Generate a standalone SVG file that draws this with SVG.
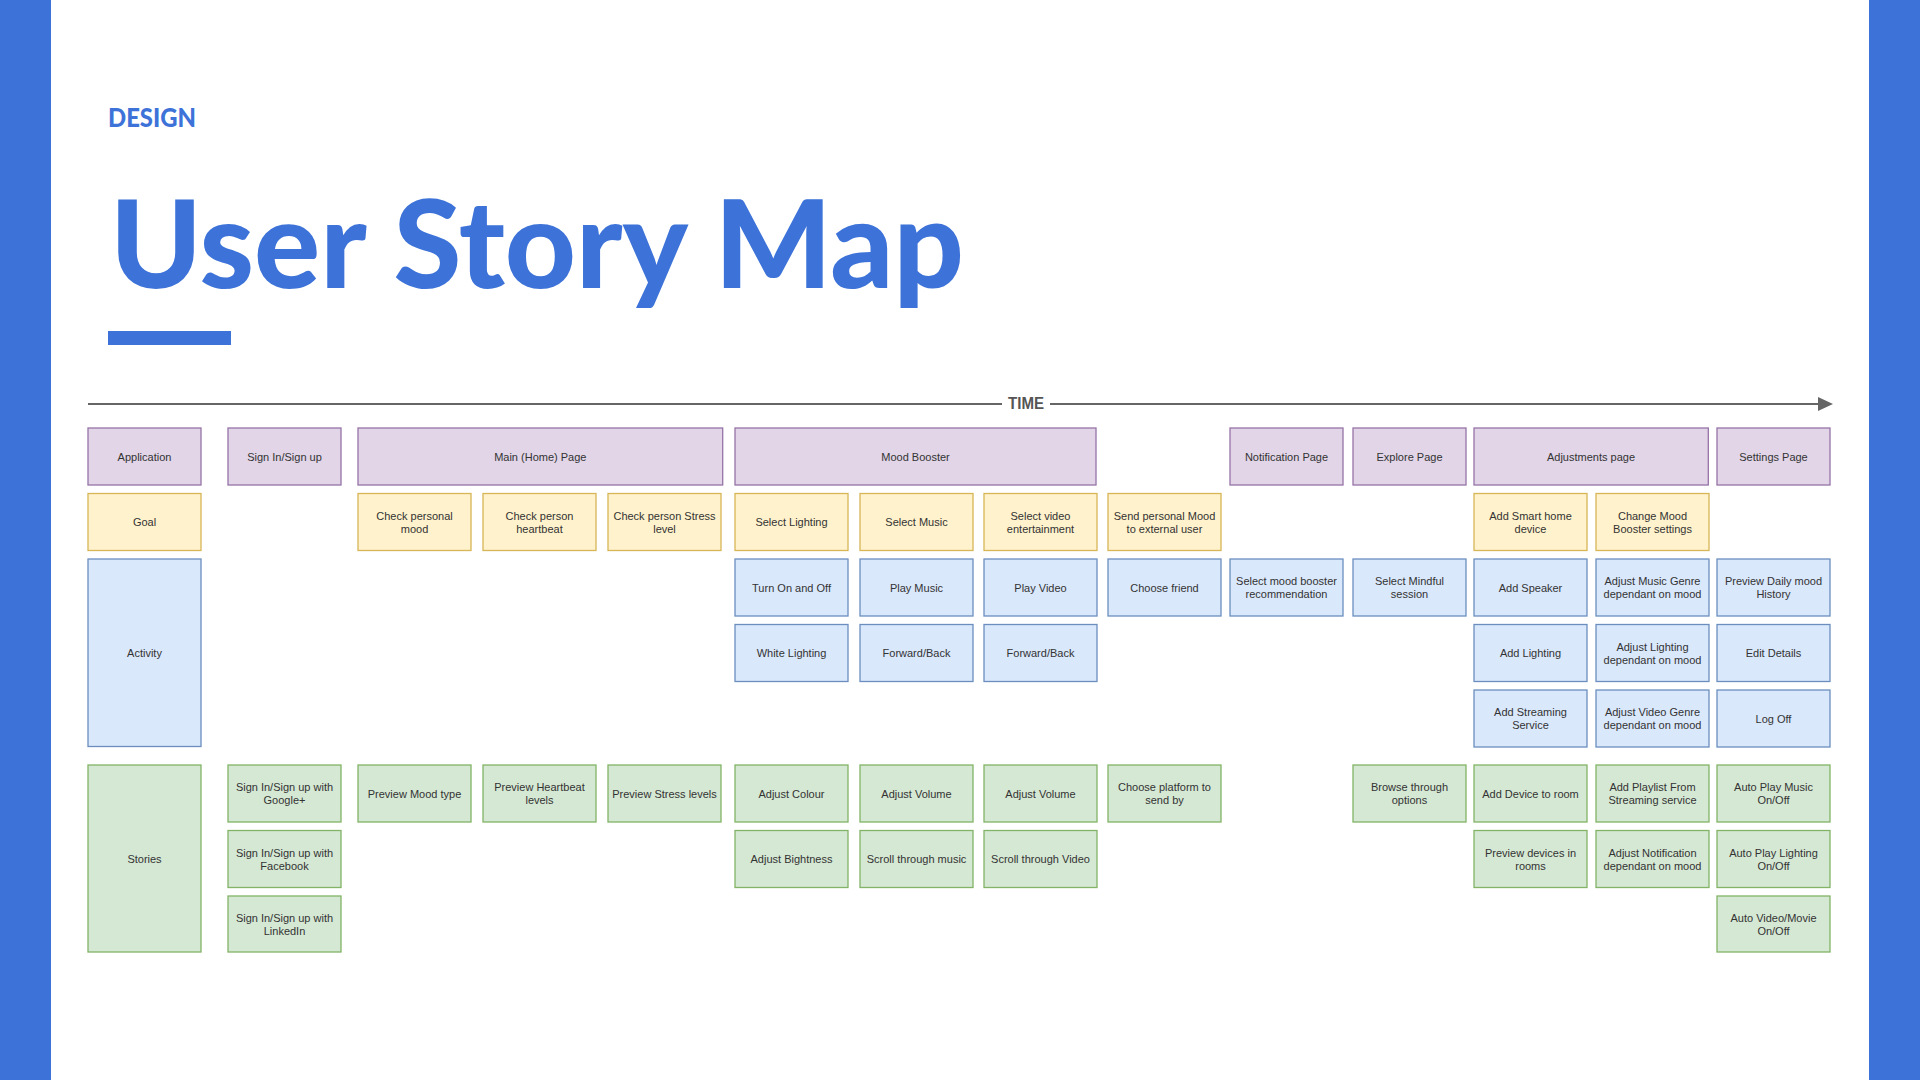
<svg xmlns="http://www.w3.org/2000/svg" width="1920" height="1080" viewBox="0 0 1920 1080">
<style>
.bar{fill:#3d73d9}
.p{fill:#e1d5e7;stroke:#9673a6;stroke-width:1.3}
.y{fill:#fff2cc;stroke:#d6b656;stroke-width:1.3}
.b{fill:#dae8fc;stroke:#6c8ebf;stroke-width:1.3}
.g{fill:#d5e8d4;stroke:#82b366;stroke-width:1.3}
text.t{font-family:"Liberation Sans",Arial,sans-serif;font-size:11px;fill:#333333;text-anchor:middle}
.tl{stroke:#666666;stroke-width:2.2;fill:none}
</style>
<defs>
<marker id="arr" markerWidth="10" markerHeight="10" refX="8" refY="5" orient="auto" markerUnits="userSpaceOnUse">
<path d="M0,0 L15,5 L0,10 Z" fill="#666666"/>
</marker>
</defs>
<rect width="1920" height="1080" fill="#ffffff"/>
<rect class="bar" x="0" y="0" width="51" height="1080"/>
<rect class="bar" x="1869" y="0" width="51" height="1080"/>
<text x="108" y="127" font-family="Lato,'Noto Sans',sans-serif" font-weight="900" font-size="26" fill="#3d73d9" textLength="88" lengthAdjust="spacingAndGlyphs">DESIGN</text>
<text x="110" y="288" font-family="Lato,'Noto Sans',sans-serif" font-weight="900" font-size="122" fill="#3d73d9" textLength="854" lengthAdjust="spacingAndGlyphs">User Story Map</text>
<rect class="bar" x="108" y="331" width="123" height="14"/>

<g id="connectors">
<line class="tl" x1="88" y1="404" x2="1002" y2="404"/>
<text x="1026" y="409" font-family="'Liberation Sans',Arial,sans-serif" font-weight="bold" font-size="16" fill="#555555" text-anchor="middle" textLength="36" lengthAdjust="spacingAndGlyphs">TIME</text>
<path class="tl" d="M1050,404 L1822,404"/>
<path d="M1818,397 L1833,404 L1818,411 Z" fill="#666666"/>
</g>

<!-- Row 0 -->
<g id="application"><rect class="p" x="88" y="428" width="113" height="57"/><text class="t" x="144.5" y="460.5">Application</text></g>
<g id="signin"><rect class="p" x="228" y="428" width="113" height="57"/><text class="t" x="284.5" y="460.5">Sign In/Sign up</text></g>
<g id="mainpage"><rect class="p" x="358" y="428" width="364.7" height="57"/><text class="t" x="540.3" y="460.5">Main (Home) Page</text></g>
<g id="moodbooster"><rect class="p" x="735" y="428" width="361" height="57"/><text class="t" x="915.5" y="460.5">Mood Booster</text></g>
<g id="notificationpage"><rect class="p" x="1230" y="428" width="113" height="57"/><text class="t" x="1286.5" y="460.5">Notification Page</text></g>
<g id="explorepage"><rect class="p" x="1353" y="428" width="113" height="57"/><text class="t" x="1409.5" y="460.5">Explore Page</text></g>
<g id="adjustmentspage"><rect class="p" x="1474" y="428" width="234.3" height="57"/><text class="t" x="1591" y="460.5">Adjustments page</text></g>
<g id="settingspage"><rect class="p" x="1717" y="428" width="113" height="57"/><text class="t" x="1773.5" y="460.5">Settings Page</text></g>

<!-- Row 1 goals -->
<g id="goal"><rect class="y" x="88" y="493.5" width="113" height="57"/><text class="t" x="144.5" y="526">Goal</text></g>
<g id="checkmood"><rect class="y" x="358" y="493.5" width="113" height="57"/><text class="t" x="414.5" y="519.5">Check personal<tspan x="414.5" dy="13">mood</tspan></text></g>
<g id="checkheartbeat"><rect class="y" x="483" y="493.5" width="113" height="57"/><text class="t" x="539.5" y="519.5">Check person<tspan x="539.5" dy="13">heartbeat</tspan></text></g>
<g id="checkstress"><rect class="y" x="608" y="493.5" width="113" height="57"/><text class="t" x="664.5" y="519.5">Check person Stress<tspan x="664.5" dy="13">level</tspan></text></g>
<g id="selectlighting"><rect class="y" x="735" y="493.5" width="113" height="57"/><text class="t" x="791.5" y="526">Select Lighting</text></g>
<g id="selectmusic"><rect class="y" x="860" y="493.5" width="113" height="57"/><text class="t" x="916.5" y="526">Select Music</text></g>
<g id="selectvideo"><rect class="y" x="984" y="493.5" width="113" height="57"/><text class="t" x="1040.5" y="519.5">Select video<tspan x="1040.5" dy="13">entertainment</tspan></text></g>
<g id="sendmood"><rect class="y" x="1108" y="493.5" width="113" height="57"/><text class="t" x="1164.5" y="519.5">Send personal Mood<tspan x="1164.5" dy="13">to external user</tspan></text></g>
<g id="addsmarthome"><rect class="y" x="1474" y="493.5" width="113" height="57"/><text class="t" x="1530.5" y="519.5">Add Smart home<tspan x="1530.5" dy="13">device</tspan></text></g>
<g id="changemood"><rect class="y" x="1596" y="493.5" width="113" height="57"/><text class="t" x="1652.5" y="519.5">Change Mood<tspan x="1652.5" dy="13">Booster settings</tspan></text></g>

<!-- Activities -->
<g id="activity"><rect class="b" x="88" y="559" width="113" height="187.5"/><text class="t" x="144.5" y="656.5">Activity</text></g>
<g id="turnonoff"><rect class="b" x="735" y="559" width="113" height="57"/><text class="t" x="791.5" y="591.5">Turn On and Off</text></g>
<g id="playmusic"><rect class="b" x="860" y="559" width="113" height="57"/><text class="t" x="916.5" y="591.5">Play Music</text></g>
<g id="playvideo"><rect class="b" x="984" y="559" width="113" height="57"/><text class="t" x="1040.5" y="591.5">Play Video</text></g>
<g id="choosefriend"><rect class="b" x="1108" y="559" width="113" height="57"/><text class="t" x="1164.5" y="591.5">Choose friend</text></g>
<g id="selectrecommendation"><rect class="b" x="1230" y="559" width="113" height="57"/><text class="t" x="1286.5" y="585">Select mood booster<tspan x="1286.5" dy="13">recommendation</tspan></text></g>
<g id="selectmindful"><rect class="b" x="1353" y="559" width="113" height="57"/><text class="t" x="1409.5" y="585">Select Mindful<tspan x="1409.5" dy="13">session</tspan></text></g>
<g id="addspeaker"><rect class="b" x="1474" y="559" width="113" height="57"/><text class="t" x="1530.5" y="591.5">Add Speaker</text></g>
<g id="adjustmusicgenre"><rect class="b" x="1596" y="559" width="113" height="57"/><text class="t" x="1652.5" y="585">Adjust Music Genre<tspan x="1652.5" dy="13">dependant on mood</tspan></text></g>
<g id="previewhistory"><rect class="b" x="1717" y="559" width="113" height="57"/><text class="t" x="1773.5" y="585">Preview Daily mood<tspan x="1773.5" dy="13">History</tspan></text></g>

<g id="whitelighting"><rect class="b" x="735" y="624.5" width="113" height="57"/><text class="t" x="791.5" y="657">White Lighting</text></g>
<g id="forwardback1"><rect class="b" x="860" y="624.5" width="113" height="57"/><text class="t" x="916.5" y="657">Forward/Back</text></g>
<g id="forwardback2"><rect class="b" x="984" y="624.5" width="113" height="57"/><text class="t" x="1040.5" y="657">Forward/Back</text></g>
<g id="addlighting"><rect class="b" x="1474" y="624.5" width="113" height="57"/><text class="t" x="1530.5" y="657">Add Lighting</text></g>
<g id="adjustlightingmood"><rect class="b" x="1596" y="624.5" width="113" height="57"/><text class="t" x="1652.5" y="650.5">Adjust Lighting<tspan x="1652.5" dy="13">dependant on mood</tspan></text></g>
<g id="editdetails"><rect class="b" x="1717" y="624.5" width="113" height="57"/><text class="t" x="1773.5" y="657">Edit Details</text></g>

<g id="addstreaming"><rect class="b" x="1474" y="690" width="113" height="57"/><text class="t" x="1530.5" y="716">Add Streaming<tspan x="1530.5" dy="13">Service</tspan></text></g>
<g id="adjustvideogenre"><rect class="b" x="1596" y="690" width="113" height="57"/><text class="t" x="1652.5" y="716">Adjust Video Genre<tspan x="1652.5" dy="13">dependant on mood</tspan></text></g>
<g id="logoff"><rect class="b" x="1717" y="690" width="113" height="57"/><text class="t" x="1773.5" y="722.5">Log Off</text></g>

<!-- Stories -->
<g id="stories"><rect class="g" x="88" y="765" width="113" height="187"/><text class="t" x="144.5" y="862.5">Stories</text></g>
<g id="signgoogle"><rect class="g" x="228" y="765" width="113" height="57"/><text class="t" x="284.5" y="791">Sign In/Sign up with<tspan x="284.5" dy="13">Google+</tspan></text></g>
<g id="previewmood"><rect class="g" x="358" y="765" width="113" height="57"/><text class="t" x="414.5" y="797.5">Preview Mood type</text></g>
<g id="previewheartbeat"><rect class="g" x="483" y="765" width="113" height="57"/><text class="t" x="539.5" y="791">Preview Heartbeat<tspan x="539.5" dy="13">levels</tspan></text></g>
<g id="previewstress"><rect class="g" x="608" y="765" width="113" height="57"/><text class="t" x="664.5" y="797.5">Preview Stress levels</text></g>
<g id="adjustcolour"><rect class="g" x="735" y="765" width="113" height="57"/><text class="t" x="791.5" y="797.5">Adjust Colour</text></g>
<g id="adjustvolume1"><rect class="g" x="860" y="765" width="113" height="57"/><text class="t" x="916.5" y="797.5">Adjust Volume</text></g>
<g id="adjustvolume2"><rect class="g" x="984" y="765" width="113" height="57"/><text class="t" x="1040.5" y="797.5">Adjust Volume</text></g>
<g id="chooseplatform"><rect class="g" x="1108" y="765" width="113" height="57"/><text class="t" x="1164.5" y="791">Choose platform to<tspan x="1164.5" dy="13">send by</tspan></text></g>
<g id="browseoptions"><rect class="g" x="1353" y="765" width="113" height="57"/><text class="t" x="1409.5" y="791">Browse through<tspan x="1409.5" dy="13">options</tspan></text></g>
<g id="adddevice"><rect class="g" x="1474" y="765" width="113" height="57"/><text class="t" x="1530.5" y="797.5">Add Device to room</text></g>
<g id="addplaylist"><rect class="g" x="1596" y="765" width="113" height="57"/><text class="t" x="1652.5" y="791">Add Playlist From<tspan x="1652.5" dy="13">Streaming service</tspan></text></g>
<g id="autoplaymusic"><rect class="g" x="1717" y="765" width="113" height="57"/><text class="t" x="1773.5" y="791">Auto Play Music<tspan x="1773.5" dy="13">On/Off</tspan></text></g>

<g id="signfacebook"><rect class="g" x="228" y="830.5" width="113" height="57"/><text class="t" x="284.5" y="856.5">Sign In/Sign up with<tspan x="284.5" dy="13">Facebook</tspan></text></g>
<g id="adjustbrightness"><rect class="g" x="735" y="830.5" width="113" height="57"/><text class="t" x="791.5" y="863">Adjust Bightness</text></g>
<g id="scrollmusic"><rect class="g" x="860" y="830.5" width="113" height="57"/><text class="t" x="916.5" y="863">Scroll through music</text></g>
<g id="scrollvideo"><rect class="g" x="984" y="830.5" width="113" height="57"/><text class="t" x="1040.5" y="863">Scroll through Video</text></g>
<g id="previewdevices"><rect class="g" x="1474" y="830.5" width="113" height="57"/><text class="t" x="1530.5" y="856.5">Preview devices in<tspan x="1530.5" dy="13">rooms</tspan></text></g>
<g id="adjustnotification"><rect class="g" x="1596" y="830.5" width="113" height="57"/><text class="t" x="1652.5" y="856.5">Adjust Notification<tspan x="1652.5" dy="13">dependant on mood</tspan></text></g>
<g id="autoplaylighting"><rect class="g" x="1717" y="830.5" width="113" height="57"/><text class="t" x="1773.5" y="856.5">Auto Play Lighting<tspan x="1773.5" dy="13">On/Off</tspan></text></g>

<g id="signlinkedin"><rect class="g" x="228" y="896" width="113" height="56"/><text class="t" x="284.5" y="921.5">Sign In/Sign up with<tspan x="284.5" dy="13">LinkedIn</tspan></text></g>
<g id="autovideo"><rect class="g" x="1717" y="896" width="113" height="56"/><text class="t" x="1773.5" y="921.5">Auto Video/Movie<tspan x="1773.5" dy="13">On/Off</tspan></text></g>
</svg>
